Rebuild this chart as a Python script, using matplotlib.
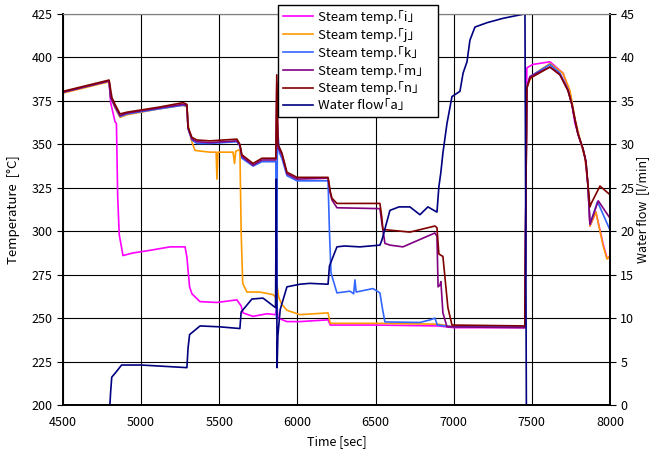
import matplotlib.pyplot as plt

plt.rcParams['font.family'] = ['Noto Sans CJK JP', 'DejaVu Sans']

# Steam temp. i
t_i = [4500, 4795, 4805, 4833, 4842, 4850, 4860, 4884, 4948, 5057, 5185, 5281, 5293, 5310,
       5325, 5376, 5485, 5613, 5640, 5652, 5716, 5805, 5860, 5868, 5876, 5933, 6016, 6196,
       6210, 6500, 6900, 7000, 7455, 7468, 7507, 7616, 7699, 7744, 7776, 7808, 7840, 7859,
       7872, 7910, 7955, 7981, 8000]
T_i = [380, 386.5, 374, 363, 362, 320, 298, 286, 287.5, 289, 291, 291, 285, 268,
       264, 259.5, 259, 260.5, 257, 253, 251, 252.5, 252, 258, 250, 248, 248, 249,
       246, 246, 245.5, 244.5, 244.5, 394, 396, 397.5, 391, 379.5, 362, 352.5, 342.7, 327,
       303, 311, 293, 284.6, 285]

# Steam temp. j
t_j = [4500, 4795, 4805, 4833, 4865, 4909, 5120, 5268, 5293, 5305, 5330, 5345, 5440, 5480,
       5485, 5492, 5588, 5598, 5605, 5632, 5640, 5650, 5677, 5760, 5844, 5862, 5868, 5880,
       5900, 5933, 6016, 6196, 6210, 6500, 6900, 7000, 7455, 7468, 7507, 7616, 7699, 7744,
       7776, 7808, 7840, 7859, 7872, 7910, 7955, 7981, 8000]
T_j = [379.5, 386, 377, 371, 365.5, 367, 370.5, 372.5, 371.5, 358, 350, 346.5, 345.5, 345.5,
       330, 345.5, 345.5, 339, 346, 347, 300, 270, 265, 265, 263.5, 262, 270, 262,
       258, 254.5, 252, 253, 247, 247, 246.5, 245, 245, 384, 390, 396.5, 391, 381,
       365, 353, 342, 327, 303, 311, 292, 284, 286]

# Steam temp. k
t_k = [4500, 4795, 4805, 4833, 4865, 4909, 5120, 5268, 5293, 5300, 5325, 5357, 5440, 5613,
       5632, 5645, 5716, 5773, 5844, 5862, 5867, 5872, 5885, 5901, 5933, 5997, 6196, 6205,
       6215, 6253, 6336, 6360, 6368, 6376, 6483, 6528, 6545, 6560, 6784, 6850, 6880, 6895,
       7000, 7455, 7468, 7488, 7616, 7680, 7731, 7757, 7776, 7795, 7827, 7846, 7859, 7872,
       7920, 8000]
T_k = [380, 386.5, 377, 371.5, 366, 367.5, 370.5, 372.5, 372, 359, 352.5, 350.5, 350.5, 351.5,
       349, 342, 337.5, 340, 340, 340, 250, 360, 345, 342, 332, 329, 329, 300,
       276, 264.5, 265.5, 264, 272, 265, 267, 264.5, 255, 247.8, 247.5, 249, 250, 246,
       245, 245, 383, 389, 396, 391, 381.5, 373, 364, 356, 347.5, 340, 326, 304,
       317, 300.7]

# Steam temp. m
t_m = [4500, 4795, 4805, 4833, 4865, 4909, 5120, 5268, 5293, 5300, 5325, 5357, 5440, 5613,
       5632, 5645, 5716, 5773, 5844, 5862, 5868, 5876, 5901, 5933, 5997, 6196, 6210, 6221,
       6253, 6528, 6540, 6560, 6592, 6675, 6880, 6893, 6900, 6912, 6918, 6931, 6957, 7455,
       7468, 7488, 7616, 7680, 7731, 7757, 7776, 7795, 7827, 7846, 7859, 7872, 7925, 8000]
T_m = [380, 386.5, 377, 372, 366.5, 368, 371, 373, 372.5, 359.5, 353, 351.5, 351, 352,
       349.5, 343, 338, 341, 341, 341, 385, 348, 344, 333, 330, 330.5, 322, 318,
       313.5, 313, 305, 293, 292, 291, 299, 297, 268, 269, 271, 253, 245, 244.5,
       383, 389, 394.5, 390, 381, 372.5, 364, 356, 347.5, 340, 326, 304, 317.5, 307.5]

# Steam temp. n
t_n = [4500, 4795, 4813, 4833, 4865, 4909, 5120, 5268, 5293, 5300, 5325, 5357, 5440, 5613,
       5632, 5645, 5716, 5773, 5844, 5862, 5868, 5876, 5901, 5933, 5997, 6196, 6210, 6221,
       6253, 6528, 6540, 6547, 6720, 6880, 6893, 6905, 6912, 6931, 6963, 6989, 7455, 7468,
       7488, 7616, 7680, 7731, 7757, 7776, 7795, 7827, 7846, 7859, 7872, 7880, 7936, 8000]
T_n = [380.5, 387, 377, 373, 367.5, 368.5, 371.5, 374, 373, 360, 354, 352.5, 352, 353,
       350, 344, 339, 342, 342, 342, 390, 350, 345, 334, 331, 331, 323, 319,
       316, 316, 308, 301, 299.5, 303, 302, 287, 286.5, 285.5, 256, 246, 245.5, 382,
       388, 394.5, 390, 381, 373, 364, 356, 347.5, 340, 327, 314, 316, 326, 321]

# Water flow a
t_a = [4800, 4805, 4812, 4840, 4875, 5000, 5100, 5293, 5300, 5310, 5377, 5500, 5632, 5640,
       5709, 5780, 5824, 5860, 5865, 5870, 5875, 5890, 5933, 6016, 6080, 6196, 6205, 6253,
       6300, 6400, 6528, 6541, 6592, 6650, 6720, 6784, 6835, 6893, 6905, 6918, 6931, 6957,
       6989, 7040, 7060, 7085, 7104, 7136, 7213, 7315, 7424, 7450, 7456, 7465]
F_a = [0, 1.5, 3.2, 3.8, 4.6, 4.6, 4.5, 4.3, 6.5, 8.1, 9.1, 9.0, 8.8, 10.7,
       12.2, 12.3, 11.7, 11.2, 26, 4.3, 8, 11, 13.6, 13.9, 14.0, 13.9, 16, 18.2,
       18.3, 18.2, 18.4, 19, 22.4, 22.8, 22.8, 21.9, 22.8, 22.2, 25.1, 26.8, 29.0, 32.4,
       35.5, 36.1, 38.2, 39.5, 42.0, 43.5, 44.0, 44.5, 44.9, 45, 45, 0]

fig = plt.figure(figsize=(6.54, 4.55), dpi=100)
ax = fig.add_axes([0.0963, 0.1099, 0.8364, 0.8593])
ax2 = ax.twinx()

lw = 1.2
l_i, = ax.plot(t_i, T_i, color='#FF00FF', lw=lw, label='Steam temp.｢i｣')
l_j, = ax.plot(t_j, T_j, color='#FF9900', lw=lw, label='Steam temp.｢j｣')
l_k, = ax.plot(t_k, T_k, color='#3366FF', lw=lw, label='Steam temp.｢k｣')
l_m, = ax.plot(t_m, T_m, color='#800080', lw=lw, label='Steam temp.｢m｣')
l_n, = ax.plot(t_n, T_n, color='#800000', lw=lw, label='Steam temp.｢n｣')
l_a, = ax2.plot(t_a, F_a, color='#000080', lw=lw, label='Water flow｢a｣')

ax.set_xlim(4500, 8000)
ax.set_ylim(200, 425)
ax2.set_ylim(0, 45)
ax.set_xticks(range(4500, 8001, 500))
ax.set_yticks(range(200, 426, 25))
ax2.set_yticks(range(0, 46, 5))

ax.grid(True, color='black', lw=0.8)
ax.set_axisbelow(True)

for a in (ax, ax2):
    a.spines['top'].set_color('#808080')
    a.spines['left'].set_linewidth(1.2)
    a.spines['bottom'].set_linewidth(1.2)
    a.spines['right'].set_linewidth(1.2)
ax.tick_params(axis='y', direction='out', length=4, labelsize=9)
ax.tick_params(axis='x', length=0, labelsize=9, pad=8)
ax2.tick_params(axis='y', direction='out', length=4, labelsize=9)

ax.set_xlabel('Time [sec]', fontsize=9)
ax.set_ylabel('Temperature  [°C]', fontsize=9.5, labelpad=8)
ax2.set_ylabel('Water flow  [l/min]', fontsize=9, labelpad=1)

leg = ax2.legend(handles=[l_i, l_j, l_k, l_m, l_n, l_a], loc='upper left',
                 bbox_to_anchor=(0.393, 0.749, 0.293, 0.274), mode='expand',
                 borderaxespad=0, fontsize=9.5,
                 fancybox=False, framealpha=1, edgecolor='black', handlelength=2.3,
                 labelspacing=0.3, borderpad=0.35, handletextpad=0.35)
leg.get_frame().set_linewidth(1.0)

fig.savefig('out.png', dpi=100)
